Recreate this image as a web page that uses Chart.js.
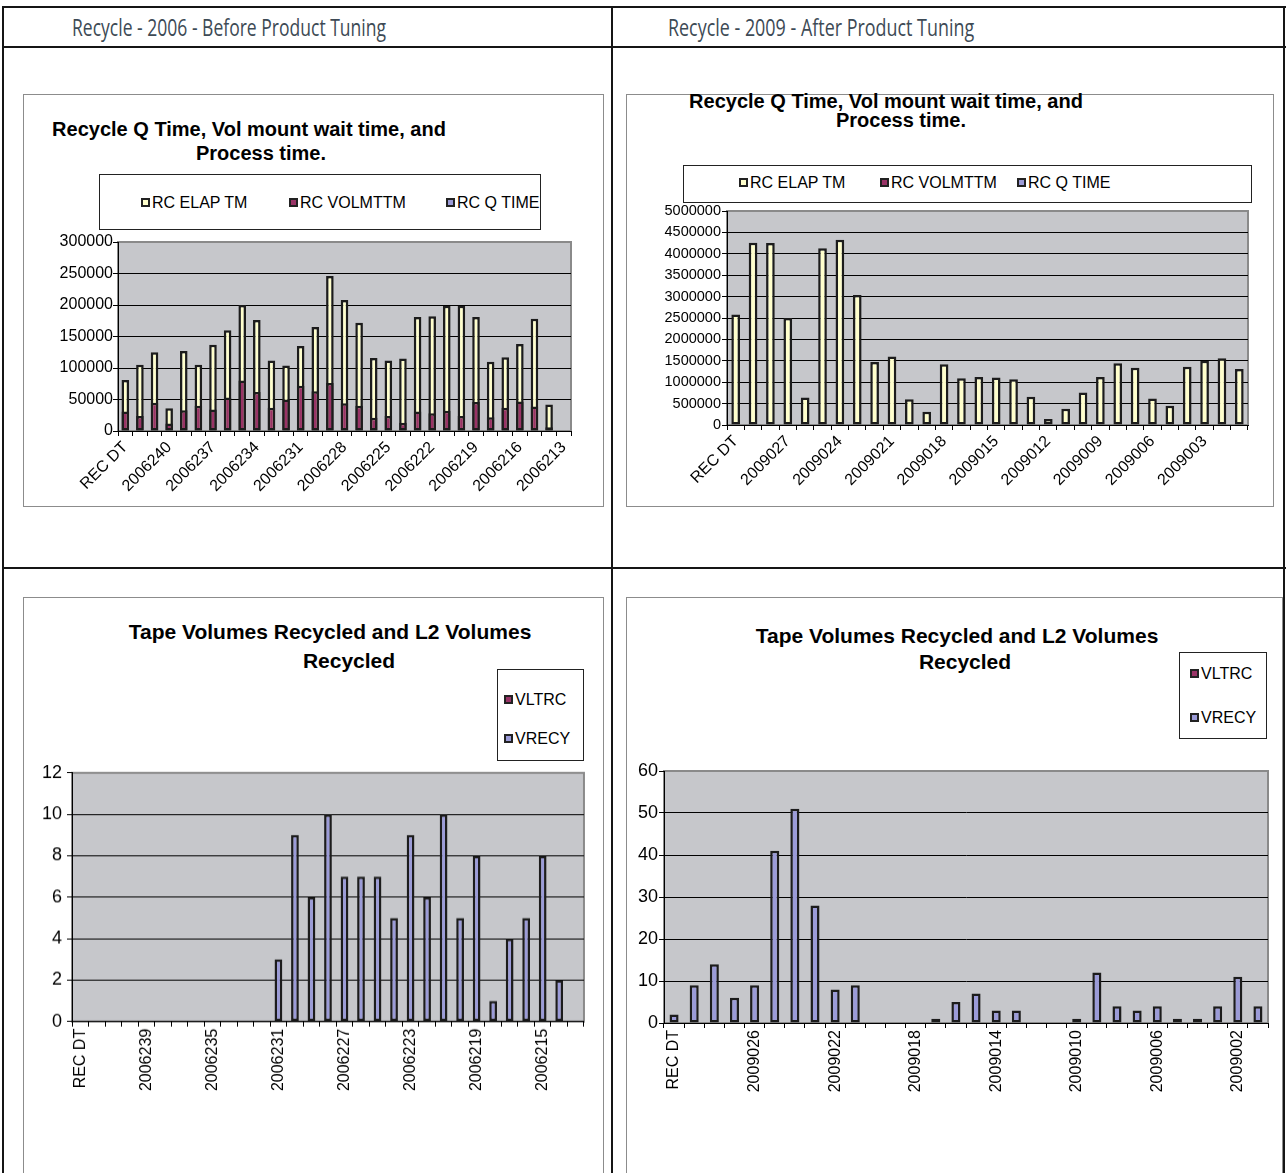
<!DOCTYPE html>
<html>
<head>
<meta charset="utf-8">
<script src="https://cdn.jsdelivr.net/npm/chart.js@4.4.0/dist/chart.umd.min.js"></script>
<style>
    body { margin: 0; width: 1286px; height: 1173px; position: relative; overflow: hidden; background: #fff;
           font-family: "Liberation Sans", Arial, sans-serif; color: #000; }
    .rule { position: absolute; background: #151515; }
    .frame { position: absolute; border: 1px solid #8c8c8c; box-sizing: border-box; background: #fff; }
    .head { position: absolute; font-family: "Open Sans", sans-serif; font-size: 23px; line-height: 26px;
            color: #3d4a55; white-space: nowrap; transform-origin: 0 0; }
    .title { position: absolute; font-weight: bold; line-height: 20px; white-space: nowrap;
             transform: translateX(-50%); }
    .legend { position: absolute; border: 1px solid #222; background: #fff; box-sizing: border-box; }
    .item { position: absolute; font-size: 16px; line-height: 16px; white-space: nowrap; }
    .item i { display: inline-block; width: 5px; height: 5px; border: 2px solid #222; margin-right: 2px;
              vertical-align: 1px; }
    .plot { position: absolute; }
</style>
</head>
<body>
<script>
// Category labels (REC DT rows)
const recDates2006 = ['REC DT', '2006242', '2006241', '2006240', '2006239', '2006238', '2006237', '2006236',
    '2006235', '2006234', '2006233', '2006232', '2006231', '2006230', '2006229', '2006228', '2006227', '2006226',
    '2006225', '2006224', '2006223', '2006222', '2006221', '2006220', '2006219', '2006218', '2006217', '2006216',
    '2006215', '2006214', '2006213'];
const recDates2009 = ['REC DT', '2009029', '2009028', '2009027', '2009026', '2009025', '2009024', '2009023',
    '2009022', '2009021', '2009020', '2009019', '2009018', '2009017', '2009016', '2009015', '2009014', '2009013',
    '2009012', '2009011', '2009010', '2009009', '2009008', '2009007', '2009006', '2009005', '2009004', '2009003',
    '2009002', '2009001'];

// 2006 - recycle times
const elapTm2006 = [81000, 105000, 125000, 36000, 127000, 105000, 137000, 160000, 200000, 176000,
    112000, 104000, 135000, 165000, 246000, 208000, 172000, 116000, 112000, 115000,
    181000, 182000, 199000, 199000, 181000, 110000, 117000, 138000, 178000, 42000, null];
const volMtTm2006 = [31000, 24000, 45000, 12000, 33000, 40000, 34000, 53000, 80000, 62000,
    37000, 50000, 72000, 63000, 76000, 44000, 40000, 21000, 24000, 13000,
    31000, 28000, 32000, 24000, 46000, 22000, 37000, 47000, 39000, 6000, null];
const qTime2006 = [0, 0, 0, 0, 0, 0, 0, 0, 0, 0, 0, 0, 0, 0, 0, 0, 0, 0, 0, 0, 0, 0, 0, 0, 0, 0, 0, 0, 0, 0, null];

// 2009 - recycle times
const elapTm2009 = [2580000, 4260000, 4250000, 2500000, 640000, 4130000, 4330000, 3040000, 1470000, 1600000,
    600000, 310000, 1420000, 1090000, 1120000, 1110000, 1070000, 660000, 140000, 380000,
    760000, 1120000, 1440000, 1340000, 620000, 450000, 1360000, 1500000, 1560000, 1310000];
const volMtTm2009 = [0, 0, 0, 0, 0, 0, 0, 0, 0, 0, 0, 0, 0, 0, 0, 0, 0, 0, 0, 0, 0, 0, 0, 0, 0, 0, 0, 0, 0, 0];
const qTime2009 = [0, 0, 0, 0, 0, 0, 0, 0, 0, 0, 0, 0, 0, 0, 0, 0, 0, 0, 0, 0, 0, 0, 0, 0, 0, 0, 0, 0, 0, 0];

// Volumes recycled
const vltrc2006 = [0, 0, 0, 0, 0, 0, 0, 0, 0, 0, 0, 0, 0, 0, 0, 0, 0, 0, 0, 0, 0, 0, 0, 0, 0, 0, 0, 0, 0, 0, 0];
const vrecy2006 = [0, 0, 0, 0, 0, 0, 0, 0, 0, 0, 0, 0, 3, 9, 6, 10, 7, 7, 7, 5, 9, 6, 10, 5, 8, 1, 4, 5, 8, 2, 0];
const vltrc2009 = [0, 0, 0, 0, 0, 0, 0, 0, 0, 0, 0, 0, 0, 0, 0, 0, 0, 0, 0, 0, 0, 0, 0, 0, 0, 0, 0, 0, 0, 0];
const vrecy2009 = [2, 9, 14, 6, 9, 41, 51, 28, 8, 9, 0, 0, 0, 1, 5, 7, 3, 3, 0, 0, 1, 12, 4, 3, 4, 1, 1, 4, 11, 4];

// Value axis ticks
const timeTicks2006 = [0, 50000, 100000, 150000, 200000, 250000, 300000];
const timeTicks2009 = [0, 500000, 1000000, 1500000, 2000000, 2500000, 3000000, 3500000, 4000000, 4500000, 5000000];
const volTicks2006 = [0, 2, 4, 6, 8, 10, 12];
const volTicks2009 = [0, 10, 20, 30, 40, 50, 60];

const FONT = '"Liberation Sans", Arial, sans-serif';
const ELAP_COLOR = '#ffffcc';
const VOLMT_COLOR = '#993366';
const QTIME_COLOR = '#9b9bd8';

function el(cls, css, html) {
    const d = document.createElement('div');
    d.className = cls;
    Object.assign(d.style, css);
    if (html !== undefined) d.innerHTML = html;
    document.body.appendChild(d);
    return d;
}

// Excel style grey plot area with a grey frame
const plotArea = {
    id: 'plotArea',
    beforeDraw(chart) {
        const { ctx, chartArea: a } = chart;
        ctx.save();
        ctx.fillStyle = '#c6c7cb';
        ctx.fillRect(a.left, a.top, a.right - a.left, a.bottom - a.top);
        ctx.strokeStyle = '#8a8a8a';
        ctx.lineWidth = 2;
        ctx.strokeRect(a.left, a.top, a.right - a.left, a.bottom - a.top);
        ctx.restore();
    }
};

function drawPanel(p) {
    let cw = p.yW + p.plot.w + p.padR;
    let ch = p.padT + p.plot.h + p.xH;
    const wrap = el('plot', { left: (p.plot.x - p.yW) + 'px', top: (p.plot.y - p.padT) + 'px',
        width: cw + 'px', height: ch + 'px' });
    const canvas = document.createElement('canvas');
    wrap.appendChild(canvas);

    const ticks = p.ticks;
    const chart = new Chart(canvas, {
        type: 'bar',
        data: {
            labels: p.labels,
            datasets: p.datasets.map(d => ({
                label: d.label,
                data: d.data,
                order: d.order,
                backgroundColor: d.color,
                borderColor: '#1c1c1c',
                borderWidth: 2.5,
                borderSkipped: false,
                grouped: false,
                barPercentage: p.barPct,
                categoryPercentage: 1
            }))
        },
        options: {
            responsive: true,
            maintainAspectRatio: false,
            animation: false,
            events: [],
            layout: { padding: { top: p.padT, right: p.padR, left: 0, bottom: 0 } },
            plugins: { legend: { display: false }, title: { display: false }, tooltip: { enabled: false } },
            scales: {
                x: {
                    offset: true,
                    grid: { offset: true, drawOnChartArea: false, color: '#000', tickLength: 5 },
                    border: { color: '#000', width: 1 },
                    ticks: {
                        autoSkip: false,
                        minRotation: p.rot,
                        maxRotation: p.rot,
                        padding: 2,
                        color: '#000',
                        font: { family: FONT, size: 16 },
                        callback: (v, i) => (i % p.every === 0 ? p.labels[i] : '')
                    },
                    afterFit: s => { s.height = p.xH; }
                },
                y: {
                    min: ticks[0],
                    max: ticks[ticks.length - 1],
                    grid: {
                        color: c => (c.tick && c.tick.value === ticks[ticks.length - 1] ? '#8a8a8a' : '#000'),
                        tickColor: '#000',
                        tickLength: 5
                    },
                    border: { color: '#000', width: 1 },
                    ticks: {
                        autoSkip: false,
                        stepSize: ticks[1] - ticks[0],
                        padding: p.yPad,
                        color: '#000',
                        font: { family: FONT, size: p.yFont },
                        callback: v => String(v)
                    },
                    afterFit: s => { s.width = p.yW; }
                }
            }
        },
        plugins: [plotArea]
    });

    // make the plot area exactly the wanted size, then pin it in place
    let a = chart.chartArea;
    const dw = p.plot.w - (a.right - a.left);
    const dh = p.plot.h - (a.bottom - a.top);
    if (dw || dh) {
        cw += dw;
        ch += dh;
        wrap.style.width = cw + 'px';
        wrap.style.height = ch + 'px';
        chart.resize(cw, ch);
        a = chart.chartArea;
    }
    wrap.style.left = (p.plot.x - a.left) + 'px';
    wrap.style.top = (p.plot.y - a.top) + 'px';

    // Excel style legend box, built from the chart's datasets
    const lg = el('legend', { left: p.legend.x + 'px', top: p.legend.y + 'px',
        width: p.legend.w + 'px', height: p.legend.h + 'px' });
    chart.data.datasets.forEach((ds, i) => {
        const it = document.createElement('div');
        it.className = 'item';
        it.style.left = (p.legend.items[i][0] - p.legend.x) + 'px';
        it.style.top = (p.legend.items[i][1] - p.legend.y - 8) + 'px';
        it.innerHTML = '<i style="background:' + ds.backgroundColor + '"></i>' + ds.label;
        lg.appendChild(it);
    });

    // chart titles, one line each
    p.title.forEach(t => {
        el('title', { left: t[1] + 'px', top: (t[2] - 10) + 'px', fontSize: p.titleFont + 'px' }, t[0]);
    });
    return chart;
}

// table rules
el('rule', { left: '2px', top: '6px', width: '1284px', height: '2px' });
el('rule', { left: '2px', top: '46px', width: '1284px', height: '2px' });
el('rule', { left: '2px', top: '567px', width: '1284px', height: '2px' });
el('rule', { left: '2px', top: '6px', width: '2px', height: '1167px' });
el('rule', { left: '611px', top: '6px', width: '2px', height: '1167px' });
el('rule', { left: '1283px', top: '6px', width: '2px', height: '1167px' });

// column headers
function header(text, x, cy, w) {
    const h = el('head', { left: x + 'px', top: (cy - 13) + 'px' }, text);
    h.style.transform = 'scaleX(' + (w / h.offsetWidth) + ')';
}
header('Recycle - 2006 - Before Product Tuning', 72, 27, 314);
header('Recycle - 2009 - After Product Tuning', 668, 27, 306);

// chart frames
el('frame', { left: '23px', top: '94px', width: '581px', height: '413px' });
el('frame', { left: '626px', top: '94px', width: '648px', height: '413px' });
el('frame', { left: '23px', top: '597px', width: '581px', height: '600px' });
el('frame', { left: '626px', top: '597px', width: '657px', height: '600px' });

const timeSeries = (e, v, q) => [
    { label: 'RC ELAP TM', data: e, color: ELAP_COLOR, order: 3 },
    { label: 'RC VOLMTTM', data: v, color: VOLMT_COLOR, order: 2 },
    { label: 'RC Q TIME', data: q, color: QTIME_COLOR, order: 1 }
];
const volSeries = (l, r) => [
    { label: 'VLTRC', data: l, color: VOLMT_COLOR, order: 2 },
    { label: 'VRECY', data: r, color: QTIME_COLOR, order: 1 }
];

drawPanel({
    labels: recDates2006, ticks: timeTicks2006, every: 3, rot: 45, barPct: 0.52,
    yFont: 16, yPad: 0, titleFont: 20,
    datasets: timeSeries(elapTm2006, volMtTm2006, qTime2006),
    plot: { x: 118, y: 242, w: 453, h: 189 }, yW: 94, xH: 70, padT: 12, padR: 14,
    title: [['Recycle Q Time, Vol mount wait time, and', 249, 129], ['Process time.', 261, 153]],
    legend: { x: 99, y: 174, w: 442, h: 56, items: [[140, 202], [288, 202], [445, 202]] }
});

drawPanel({
    labels: recDates2009, ticks: timeTicks2009, every: 3, rot: 45, barPct: 0.5,
    yFont: 14.5, yPad: 1, titleFont: 20,
    datasets: timeSeries(elapTm2009, volMtTm2009, qTime2009),
    plot: { x: 727, y: 211, w: 521, h: 214 }, yW: 100, xH: 70, padT: 12, padR: 14,
    title: [['Recycle Q Time, Vol mount wait time, and', 886, 101], ['Process time.', 901, 120]],
    legend: { x: 683, y: 165, w: 569, h: 38, items: [[738, 182], [879, 182], [1016, 182]] }
});

drawPanel({
    labels: recDates2006, ticks: volTicks2006, every: 4, rot: 90, barPct: 0.47,
    yFont: 18, yPad: 5, titleFont: 21,
    datasets: volSeries(vltrc2006, vrecy2006),
    plot: { x: 72, y: 773, w: 512, h: 248 }, yW: 48, xH: 80, padT: 12, padR: 12,
    title: [['Tape Volumes Recycled and L2 Volumes', 330, 632], ['Recycled', 349, 661]],
    legend: { x: 497, y: 669, w: 87, h: 92, items: [[503, 699], [503, 738]] }
});

drawPanel({
    labels: recDates2009, ticks: volTicks2009, every: 4, rot: 90, barPct: 0.45,
    yFont: 18, yPad: 1, titleFont: 21,
    datasets: volSeries(vltrc2009, vrecy2009),
    plot: { x: 664, y: 771, w: 604, h: 252 }, yW: 36, xH: 80, padT: 12, padR: 10,
    title: [['Tape Volumes Recycled and L2 Volumes', 957, 636], ['Recycled', 965, 662]],
    legend: { x: 1179, y: 652, w: 88, h: 87, items: [[1189, 673], [1189, 717]] }
});
</script>
</body>
</html>
